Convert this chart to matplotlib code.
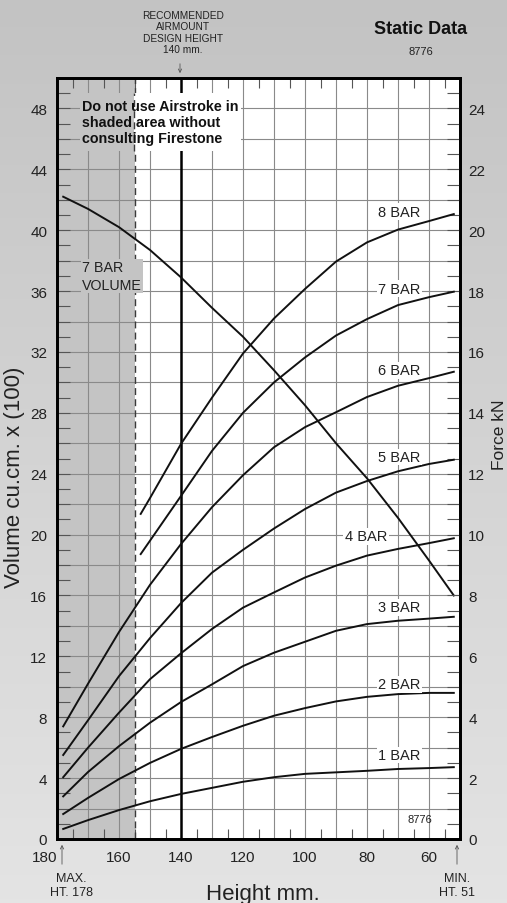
import numpy as np
import matplotlib
matplotlib.use("Agg")
import matplotlib.pyplot as plt
from matplotlib.patches import Rectangle

# ---------------- data ----------------
height_mm = [178, 170, 160, 150, 140, 130, 120, 110, 100, 90, 80, 70, 60, 52]
force_1bar = [0.33, 0.62, 0.95, 1.24, 1.48, 1.68, 1.88, 2.03, 2.14, 2.19, 2.24, 2.30, 2.33, 2.36]
force_2bar = [0.82, 1.35, 1.97, 2.50, 2.96, 3.35, 3.72, 4.05, 4.30, 4.52, 4.67, 4.76, 4.80, 4.80]
force_3bar = [1.40, 2.20, 3.05, 3.82, 4.50, 5.08, 5.68, 6.12, 6.48, 6.84, 7.06, 7.17, 7.24, 7.30]
force_4bar = [2.03, 3.00, 4.15, 5.25, 6.10, 6.90, 7.60, 8.10, 8.59, 8.98, 9.31, 9.53, 9.72, 9.88]
force_5bar = [2.76, 3.90, 5.35, 6.60, 7.75, 8.75, 9.50, 10.20, 10.84, 11.38, 11.76, 12.08, 12.32, 12.46]
force_6bar = [3.70, 5.10, 6.80, 8.35, 9.69, 10.90, 11.95, 12.87, 13.53, 14.02, 14.52, 14.89, 15.14, 15.35]

height_hi_mm = [153, 150, 140, 130, 120, 110, 100, 90, 80, 70, 60, 52]
force_7bar = [9.36, 9.80, 11.27, 12.75, 14.00, 15.00, 15.82, 16.54, 17.08, 17.54, 17.80, 17.98]
force_8bar = [10.68, 11.20, 12.98, 14.50, 15.95, 17.10, 18.07, 18.97, 19.60, 20.02, 20.30, 20.53]

volume_7bar = [42.2, 41.4, 40.2, 38.7, 36.9, 34.9, 33.0, 30.8, 28.5, 26.0, 23.7, 21.1, 18.3, 16.0]

bar_labels = ["1 BAR", "2 BAR", "3 BAR", "4 BAR", "5 BAR", "6 BAR", "7 BAR", "8 BAR"]
vol_ticks = list(range(0, 49, 4))
force_ticks = list(range(0, 25, 2))
height_ticks = [180, 160, 140, 120, 100, 80, 60]

# ---------------- figure ----------------
W, H = 507, 904
fig = plt.figure(figsize=(W / 100, H / 100), dpi=100)

# background gradient
bg = fig.add_axes([0, 0, 1, 1], zorder=-10)
grad = np.linspace(0, 1, 256).reshape(-1, 1)
top_c = np.array([195, 195, 195]) / 255
bot_c = np.array([228, 228, 228]) / 255
img = top_c[None, None, :] * (1 - grad[..., None]) + bot_c[None, None, :] * grad[..., None]
bg.imshow(img, aspect="auto", extent=[0, 1, 0, 1])
bg.set_axis_off()

SANS = ["Liberation Sans", "DejaVu Sans"]
TXT = "#222222"
SHADE = "#c4c4c4"

ax = fig.add_axes([57 / W, 1 - 840 / H, (460 - 57) / W, (840 - 79) / H])
ax.set_facecolor("white")
ax.set_xlim(180, 50)
ax.set_ylim(0, 50)

# shaded area and grid
ax.axvspan(180, 155, color=SHADE, zorder=0.5, lw=0)
gcol = "#8a8a8a"
for x in range(170, 50, -10):
    if x != 140:
        ax.axvline(x, color=gcol, lw=0.8, zorder=1)
for y in range(2, 50, 2):
    ax.axhline(y, color=gcol, lw=0.8, zorder=1)
ax.axvline(140, color="black", lw=1.8, zorder=3)
ax.axvline(155, color="#3a3a3a", lw=1.0, ls=(0, (5, 3)), zorder=3.6)

# 7 bar volume curve
ax.plot(height_mm, volume_7bar, color="#111111", lw=1.4, zorder=4)

# ticks
ax.set_xticks(height_ticks)
ax.set_xticklabels([str(v) for v in height_ticks], family=SANS, fontsize=11, color=TXT)
ax.set_xticks(np.arange(55, 180, 10), minor=True)
ax.tick_params(axis="x", which="major", length=0, pad=8)
ax.tick_params(axis="x", which="minor", direction="in", length=7, width=0.8,
               color="#555555", top=True, bottom=True)
ax.get_xticklabels()[0].set_horizontalalignment("right")

ax.set_yticks(vol_ticks)
ax.set_yticklabels([str(v) for v in vol_ticks], family=SANS, fontsize=11, color=TXT)
ax.set_yticks(np.arange(1, 50, 1), minor=True)
ax.tick_params(axis="y", which="both", direction="in", length=9.5, width=0.8,
               color="#555555", left=True, right=False, pad=7)
for s in ax.spines.values():
    s.set_linewidth(2.0)
    s.set_color("black")
    s.set_zorder(6)

# right axis: force
ax2 = ax.twinx()
ax2.set_ylim(0, 25)
ax2.set_yticks(force_ticks)
ax2.set_yticklabels([str(v) for v in force_ticks], family=SANS, fontsize=11, color=TXT)
ax2.set_yticks(np.arange(0.5, 25, 0.5), minor=True)
ax2.tick_params(axis="y", which="both", direction="in", length=9.5, width=0.8,
                color="#555555", right=True, left=False, pad=6)
for s in ax2.spines.values():
    s.set_linewidth(2.0)

force_curves = [force_1bar, force_2bar, force_3bar, force_4bar, force_5bar, force_6bar]
for f in force_curves:
    ax2.plot(height_mm, f, color="#111111", lw=1.4, zorder=4)
ax2.plot(height_hi_mm, force_7bar, color="#111111", lw=1.4, zorder=4)
ax2.plot(height_hi_mm, force_8bar, color="#111111", lw=1.4, zorder=4)

# bar labels
label_pos = [(69.6, 2.76), (69.6, 5.09), (69.6, 7.62), (80.3, 9.95),
             (69.6, 12.55), (69.6, 15.4), (69.6, 18.07), (69.6, 20.6)]
for lab, (x, y) in zip(bar_labels, label_pos):
    ax2.text(x, y, lab, ha="center", va="center", family=SANS, fontsize=10.5,
             color=TXT, zorder=5,
             bbox=dict(facecolor="white", edgecolor="none", pad=1.0))

# warning text with cleared background
ax2.add_patch(Rectangle((172.6, 22.6), 155 - 172.6, 24.5 - 22.6,
                        facecolor=SHADE, edgecolor="none", zorder=3.5))
ax2.add_patch(Rectangle((155, 22.6), 120.8 - 155, 24.5 - 22.6,
                        facecolor="white", edgecolor="none", zorder=3.5))
ax2.plot([155, 155], [22.6, 24.5], color="#3a3a3a", lw=1.0, ls=(0, (5, 3)), zorder=3.6)
ax2.text(171.9, 24.3, "Do not use Airstroke in\nshaded area without\nconsulting Firestone",
         ha="left", va="top", family=SANS, fontsize=10.3, fontweight="bold",
         color="#111111", linespacing=1.18, zorder=5)

ax2.text(171.9, 18.5, "7 BAR\nVOLUME", ha="left", va="center", family=SANS,
         fontsize=10.3, color=TXT, linespacing=1.3, zorder=5,
         bbox=dict(facecolor=SHADE, edgecolor="none", pad=1.0))

ax2.text(62.8, 0.65, "8776", ha="center", va="center", family=SANS, fontsize=8, color=TXT)

# figure level text
fig.text(421 / W, 1 - 30 / H, "Static Data", ha="center", va="center", family=SANS,
         fontsize=13, fontweight="bold", color="#111111")
fig.text(421 / W, 1 - 52 / H, "8776", ha="center", va="center", family=SANS,
         fontsize=8, color=TXT)
fig.text(183 / W, 1 - 33 / H, "RECOMMENDED\nAIRMOUNT\nDESIGN HEIGHT\n140 mm.", ha="center",
         va="center", family=SANS, fontsize=7.3, color=TXT, linespacing=1.15)
fig.add_artist(matplotlib.patches.FancyArrowPatch(
    (180 / W, 1 - 62 / H), (180 / W, 1 - 77 / H), transform=fig.transFigure,
    arrowstyle="->", mutation_scale=6, lw=0.6, color="#555555"))

fig.text(71 / W, 1 - 886 / H, "MAX.\nHT. 178", ha="center", va="center", family=SANS,
         fontsize=9, color=TXT, linespacing=1.15)
fig.text(457 / W, 1 - 886 / H, "MIN.\nHT. 51", ha="center", va="center", family=SANS,
         fontsize=9, color=TXT, linespacing=1.15)
for xp in (62, 457):
    fig.add_artist(matplotlib.patches.FancyArrowPatch(
        (xp / W, 1 - 868 / H), (xp / W, 1 - 843 / H), transform=fig.transFigure,
        arrowstyle="->", mutation_scale=6, lw=0.6, color="#555555"))

fig.text(263 / W, 1 - 900 / H, "Height mm.", ha="center", va="baseline", family=SANS,
         fontsize=16, color=TXT)
fig.text(15 / W, 1 - 477 / H, "Volume cu.cm. x (100)", ha="center", va="center",
         rotation=90, family=SANS, fontsize=16, color=TXT)
fig.text(507 / W, 1 - 435 / H, "Force kN", ha="right", va="center",
         rotation=90, family=SANS, fontsize=12.5, color=TXT)

fig.savefig("out.png", dpi=100)
